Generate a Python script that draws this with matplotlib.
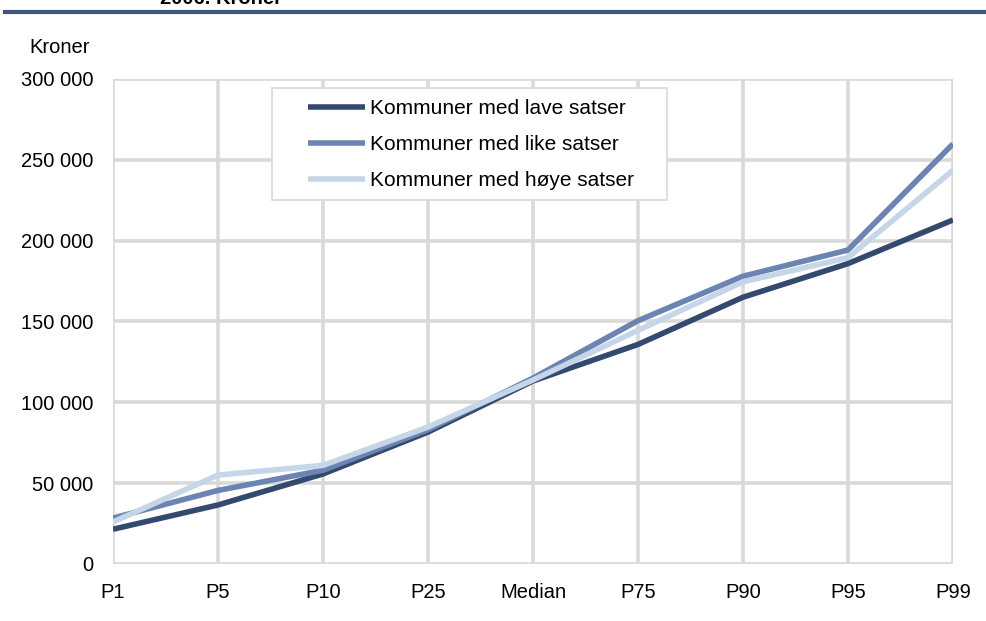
import matplotlib.pyplot as plt
from matplotlib.patches import Rectangle

plt.rcParams['font.family'] = ['Liberation Sans', 'DejaVu Sans']

categories = ['P1', 'P5', 'P10', 'P25', 'Median', 'P75', 'P90', 'P95', 'P99']
lave = [21500, 36500, 55700, 81600, 113200, 135800, 165000, 185800, 212800]
like = [28400, 45500, 58000, 83000, 115000, 150500, 178000, 194200, 259800]
hoye = [26000, 55000, 61000, 84700, 113800, 144500, 174500, 189500, 243500]
series_names = ['Kommuner med lave satser', 'Kommuner med like satser', 'Kommuner med høye satser']
colors = ['#34496e', '#6b84b1', '#c5d6e9']

fig = plt.figure(figsize=(9.87, 6.21), dpi=100)
ax = fig.add_axes([0.1145, 0.0918, 0.851, 0.781])

x = range(len(categories))
for vals, name, c in zip([lave, like, hoye], series_names, colors):
    ax.plot(x, vals, color=c, lw=4, label=name, solid_capstyle='butt')

ax.set_xlim(0, len(categories) - 1)
ax.set_ylim(0, 300000)
ax.set_xticks(list(x))
ax.set_xticklabels(categories, fontsize=14.5)
yt = list(range(0, 300001, 50000))
ax.set_yticks(yt)
ax.set_yticklabels(['0' if v == 0 else f'{v // 1000} 000' for v in yt], fontsize=14.5)
ax.tick_params(length=0)
ax.tick_params(axis='x', pad=14)
ax.tick_params(axis='y', pad=14)
ax.grid(True, color='#d9d9d9', lw=2.6)
ax.set_axisbelow(True)
for s in ax.spines.values():
    s.set_visible(False)

# legend box drawn separately so padding can differ per side
ax.add_patch(Rectangle((0.189, 0.7505), 0.4705, 0.231, transform=ax.transAxes,
                       facecolor='white', edgecolor='#d9d9d9', lw=1.2, zorder=4))
leg = ax.legend(loc='upper left', bbox_to_anchor=(0.232, 0.959), fontsize=15,
                frameon=False, handlelength=2.75, handletextpad=0.25,
                labelspacing=0.82, borderpad=0, borderaxespad=0)
leg.set_zorder(5)

fig.text(0.03, 0.923, 'Kroner', fontsize=14.5, va='center')
fig.text(0.162, 0.994, '2006. Kroner', fontsize=14.5, fontweight='bold', va='baseline')
fig.add_artist(plt.Line2D([0.005, 1.0], [0.98, 0.98], color='#3f5580', lw=3))

fig.savefig('out.png', dpi=100)
